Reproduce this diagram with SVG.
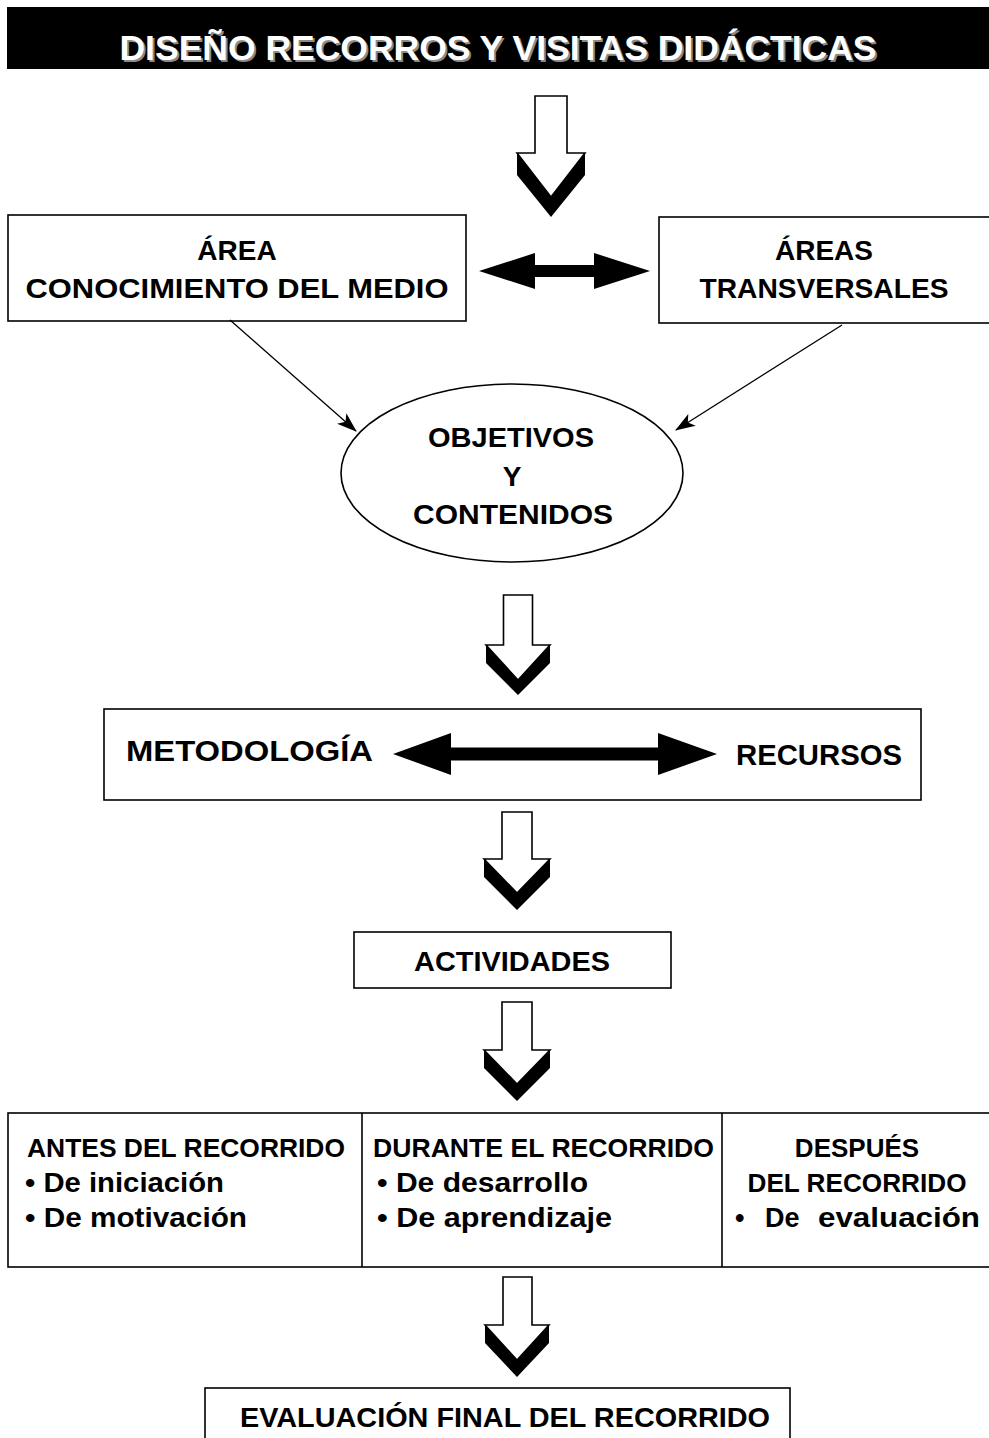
<svg xmlns="http://www.w3.org/2000/svg" width="989" height="1438" viewBox="0 0 989 1438">
<style>
  .box { fill: #ffffff; stroke: #000000; stroke-width: 1.6; }
  .t { font-family: "Liberation Sans", Arial, sans-serif; font-weight: bold; fill: #000000; }
  .c { text-anchor: middle; }
  .conn { stroke: #000000; stroke-width: 1.3; fill: none; marker-end: url(#ah); }
  .barrow { fill: #ffffff; stroke: #000000; stroke-width: 1.6; stroke-linejoin: miter; }
  .band { fill: #000000; }
</style>
<defs>
  <marker id="ah" viewBox="0 0 20 14" refX="19" refY="7" markerWidth="20" markerHeight="14" markerUnits="userSpaceOnUse" orient="auto">
    <path d="M0,0 L20,7 L0,14 L5,7 Z" fill="#000000"/>
  </marker>
</defs>
<rect width="989" height="1438" fill="#ffffff"/>

<g id="title">
  <rect x="7" y="7" width="990" height="62" fill="#000000"/>
  <text class="t c" x="500" y="62" font-size="35" textLength="757" lengthAdjust="spacingAndGlyphs" style="fill:#8a8a8a">DISEÑO RECORROS Y VISITAS DIDÁCTICAS</text>
  <text class="t c" x="498" y="60" font-size="35" textLength="757" lengthAdjust="spacingAndGlyphs" style="fill:#ffffff">DISEÑO RECORROS Y VISITAS DIDÁCTICAS</text>
</g>

<g id="area-conocimiento">
  <rect class="box" x="8" y="215" width="458" height="106"/>
  <text class="t c" x="237" y="260" font-size="28">ÁREA</text>
  <text class="t c" x="237" y="298" font-size="28" textLength="423" lengthAdjust="spacingAndGlyphs">CONOCIMIENTO DEL MEDIO</text>
</g>

<g id="areas-transversales">
  <rect class="box" x="659" y="217" width="340" height="106"/>
  <text class="t c" x="824" y="260" font-size="28">ÁREAS</text>
  <text class="t c" x="824" y="298" font-size="28" textLength="249" lengthAdjust="spacingAndGlyphs">TRANSVERSALES</text>
</g>

<g id="objetivos">
  <ellipse class="box" cx="512" cy="473" rx="171" ry="89"/>
  <text class="t c" x="511" y="447" font-size="28" textLength="166" lengthAdjust="spacingAndGlyphs">OBJETIVOS</text>
  <text class="t c" x="512" y="486" font-size="28">Y</text>
  <text class="t c" x="513" y="524" font-size="28" textLength="200" lengthAdjust="spacingAndGlyphs">CONTENIDOS</text>
</g>

<g id="metodologia">
  <rect class="box" x="104" y="709" width="817" height="91"/>
  <text class="t" x="126" y="761" font-size="29" textLength="247" lengthAdjust="spacingAndGlyphs">METODOLOGÍA</text>
  <text class="t" x="736" y="765" font-size="29" textLength="166" lengthAdjust="spacingAndGlyphs">RECURSOS</text>
</g>

<g id="actividades">
  <rect class="box" x="354" y="932" width="317" height="56"/>
  <text class="t c" x="512" y="971" font-size="28" textLength="196" lengthAdjust="spacingAndGlyphs">ACTIVIDADES</text>
</g>

<g id="fases">
  <rect class="box" x="8" y="1113" width="990" height="154"/>
  <line x1="362" y1="1113" x2="362" y2="1267" stroke="#000" stroke-width="1.6"/>
  <line x1="722" y1="1113" x2="722" y2="1267" stroke="#000" stroke-width="1.6"/>
  <text class="t" x="27" y="1157" font-size="26" textLength="318" lengthAdjust="spacingAndGlyphs">ANTES DEL RECORRIDO</text>
  <text class="t" x="25" y="1192" font-size="27" textLength="199" lengthAdjust="spacingAndGlyphs">• De iniciación</text>
  <text class="t" x="25" y="1227" font-size="27" textLength="222" lengthAdjust="spacingAndGlyphs">• De motivación</text>
  <text class="t" x="373" y="1157" font-size="26" textLength="341" lengthAdjust="spacingAndGlyphs">DURANTE EL RECORRIDO</text>
  <text class="t" x="377" y="1192" font-size="27" textLength="211" lengthAdjust="spacingAndGlyphs">• De desarrollo</text>
  <text class="t" x="377" y="1227" font-size="27" textLength="235" lengthAdjust="spacingAndGlyphs">• De aprendizaje</text>
  <text class="t c" x="857" y="1157" font-size="26">DESPUÉS</text>
  <text class="t c" x="857" y="1192" font-size="26" textLength="219" lengthAdjust="spacingAndGlyphs">DEL RECORRIDO</text>
  <text class="t" y="1227" font-size="27"><tspan x="735">•</tspan><tspan x="765">De</tspan><tspan x="818" textLength="162" lengthAdjust="spacingAndGlyphs">evaluación</tspan></text>
</g>

<g id="evaluacion-final">
  <rect class="box" x="205" y="1388" width="585" height="70"/>
  <text class="t c" x="505" y="1427" font-size="28" textLength="530" lengthAdjust="spacingAndGlyphs">EVALUACIÓN FINAL DEL RECORRIDO</text>
</g>

<g id="connectors">
  <path class="barrow" d="M535,96 H567 V153 H585 L551,197 L517,153 H535 Z"/>
  <path class="band" d="M517,153 L551,197 L585,153 L585,175 L551,217 L517,175 Z"/>
  <path fill="#000" d="M479,271 L535,253 L535,265 L594,265 L594,253 L650,271 L594,289 L594,277 L535,277 L535,289 Z"/>
  <line class="conn" x1="230" y1="320" x2="356" y2="431"/>
  <line class="conn" x1="842" y1="325" x2="676" y2="430"/>
  <path class="barrow" d="M503.5,595 H532.5 V645 H550 L518,680 L486,645 H503.5 Z"/>
  <path class="band" d="M486,645 L518,680 L550,645 L550,663 L518,695 L486,663 Z"/>
  <path fill="#000" d="M393,754 L451,733 L451,747.5 L658,747.5 L658,733 L717,754 L658,775 L658,760.5 L451,760.5 L451,775 Z"/>
  <path class="barrow" d="M502,812 H532 V859 H550 L517,893 L484,859 H502 Z"/>
  <path class="band" d="M484,859 L517,893 L550,859 L550,877 L517,910 L484,877 Z"/>
  <path class="barrow" d="M502,1002 H532 V1050 H550 L517,1084 L484,1050 H502 Z"/>
  <path class="band" d="M484,1050 L517,1084 L550,1050 L550,1068 L517,1101 L484,1068 Z"/>
  <path class="barrow" d="M503,1277 H532 V1325 H549 L517,1360 L485,1325 H503 Z"/>
  <path class="band" d="M485,1325 L517,1360 L549,1325 L549,1343 L517,1377 L485,1343 Z"/>
</g>
</svg>
